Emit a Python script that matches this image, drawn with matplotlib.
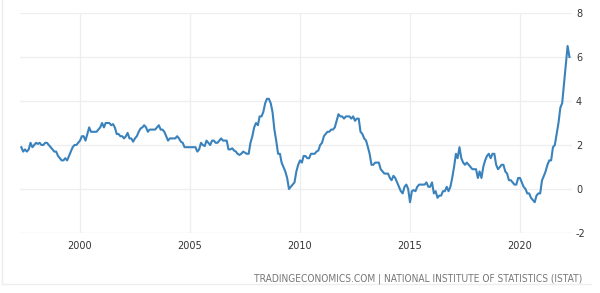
import numpy as np
import pandas as pd
import matplotlib
matplotlib.use("Agg")
import matplotlib.pyplot as plt
import matplotlib.dates as mdates

plt.rcParams["axes.unicode_minus"] = False

# monthly inflation rate (%), May 1997 - Apr 2022
y1997 = [1.9, 1.7, 1.8, 1.7, 1.8, 2.1, 1.9, 2.0]
y1998 = [2.1, 2.05, 2.1, 2.0, 2.0, 2.1, 2.1, 2.0, 1.9, 1.8, 1.7, 1.7]
y1999 = [1.5, 1.4, 1.3, 1.3, 1.4, 1.3, 1.5, 1.7, 1.9, 2.0, 2.0, 2.1]
y2000 = [2.2, 2.4, 2.4, 2.2, 2.5, 2.8, 2.6, 2.6, 2.6, 2.6, 2.7, 2.8]
y2001 = [3.0, 2.8, 3.0, 3.0, 3.0, 2.9, 2.95, 2.8, 2.5, 2.5, 2.4, 2.4]
y2002 = [2.3, 2.4, 2.55, 2.3, 2.3, 2.15, 2.3, 2.4, 2.6, 2.75, 2.8, 2.9]
y2003 = [2.8, 2.6, 2.7, 2.7, 2.7, 2.7, 2.8, 2.9, 2.7, 2.7, 2.6, 2.4]
y2004 = [2.2, 2.3, 2.3, 2.3, 2.3, 2.4, 2.3, 2.15, 2.1, 1.9, 1.9, 1.9]
y2005 = [1.9, 1.9, 1.9, 1.9, 1.7, 1.8, 2.1, 2.0, 1.95, 2.2, 2.1, 2.0]
y2006 = [2.2, 2.2, 2.1, 2.1, 2.2, 2.3, 2.2, 2.2, 2.2, 1.8, 1.8, 1.85]
y2007 = [1.75, 1.7, 1.6, 1.55, 1.6, 1.7, 1.65, 1.6, 1.6, 2.1, 2.4, 2.8]
y2008 = [3.0, 2.9, 3.3, 3.3, 3.5, 3.9, 4.1, 4.1, 3.9, 3.5, 2.7, 2.2]
y2009 = [1.6, 1.6, 1.2, 1.0, 0.8, 0.5, 0.0, 0.1, 0.2, 0.3, 0.8, 1.1]
y2010 = [1.3, 1.2, 1.5, 1.5, 1.4, 1.4, 1.6, 1.6, 1.6, 1.7, 1.75, 2.0]
y2011 = [2.1, 2.4, 2.5, 2.6, 2.6, 2.7, 2.7, 2.8, 3.1, 3.4, 3.3, 3.3]
y2012 = [3.2, 3.3, 3.3, 3.3, 3.2, 3.3, 3.1, 3.2, 3.2, 2.6, 2.5, 2.3]
y2013 = [2.2, 1.9, 1.6, 1.1, 1.1, 1.2, 1.2, 1.2, 0.9, 0.8, 0.7, 0.7]
y2014 = [0.7, 0.5, 0.4, 0.6, 0.5, 0.3, 0.1, -0.1, -0.2, 0.1, 0.2, 0.0]
y2015 = [-0.6, -0.1, -0.05, -0.1, 0.1, 0.2, 0.2, 0.2, 0.2, 0.3, 0.1, 0.1]
y2016 = [0.3, -0.2, -0.1, -0.4, -0.3, -0.3, -0.1, -0.1, 0.1, -0.1, 0.1, 0.5]
y2017 = [1.0, 1.6, 1.4, 1.9, 1.4, 1.2, 1.1, 1.2, 1.1, 1.0, 0.9, 0.9]
y2018 = [0.9, 0.5, 0.8, 0.5, 1.0, 1.3, 1.5, 1.6, 1.4, 1.6, 1.6, 1.1]
y2019 = [0.9, 1.0, 1.1, 1.1, 0.8, 0.7, 0.4, 0.4, 0.3, 0.2, 0.2, 0.5]
y2020 = [0.5, 0.3, 0.1, 0.0, -0.2, -0.2, -0.4, -0.5, -0.6, -0.3, -0.2, -0.2]
y2021 = [0.4, 0.6, 0.8, 1.1, 1.3, 1.3, 1.9, 2.0, 2.5, 3.0, 3.7, 3.9]
y2022 = [4.8, 5.7, 6.5, 6.0]

values = (y1997 + y1998 + y1999 + y2000 + y2001 + y2002 + y2003 + y2004
          + y2005 + y2006 + y2007 + y2008 + y2009 + y2010 + y2011 + y2012
          + y2013 + y2014 + y2015 + y2016 + y2017 + y2018 + y2019 + y2020
          + y2021 + y2022)
dates = pd.date_range("1997-05-01", periods=len(values), freq="MS")

tick_years = [2000, 2005, 2010, 2015, 2020]
y_ticks = [-2, 0, 2, 4, 6, 8]
source = "TRADINGECONOMICS.COM | NATIONAL INSTITUTE OF STATISTICS (ISTAT)"

fig = plt.figure(figsize=(6, 2.93), dpi=100)
ax = fig.add_axes([0.0325, 0.2048, 0.9205, 0.7508])

ax.plot(dates, values, color="#3a82bc", lw=1.5, solid_joinstyle="round")

ax.set_ylim(-2, 8)
ax.set_xlim(pd.Timestamp("1997-04-01"), pd.Timestamp("2022-05-10"))
ax.set_yticks(y_ticks)
ax.set_xticks([pd.Timestamp(f"{y}-01-01") for y in tick_years])
ax.xaxis.set_major_formatter(mdates.DateFormatter("%Y"))

ax.yaxis.tick_right()
ax.tick_params(axis="both", length=0, labelsize=7, colors="#333333")
ax.tick_params(axis="x", pad=6)
ax.tick_params(axis="y", pad=3)

ax.grid(True, color="#eeeeee", lw=0.9)
ax.set_axisbelow(True)
for s in ax.spines.values():
    s.set_visible(False)
ax.axhline(-2, color="#dddddd", lw=0.9, ls=(0, (1, 1)), zorder=0)

fig.text(0.97, 0.05, source, ha="right", va="center", fontsize=7.3,
         color="#777777", fontstretch="condensed")

# light frame around the chart
fig.add_artist(plt.Line2D([0.004, 0.004], [0.03, 1.0], color="#eeeeee", lw=1))
fig.add_artist(plt.Line2D([0.004, 0.985], [0.03, 0.03], color="#eeeeee", lw=1))

fig.savefig("out.png", dpi=100)
